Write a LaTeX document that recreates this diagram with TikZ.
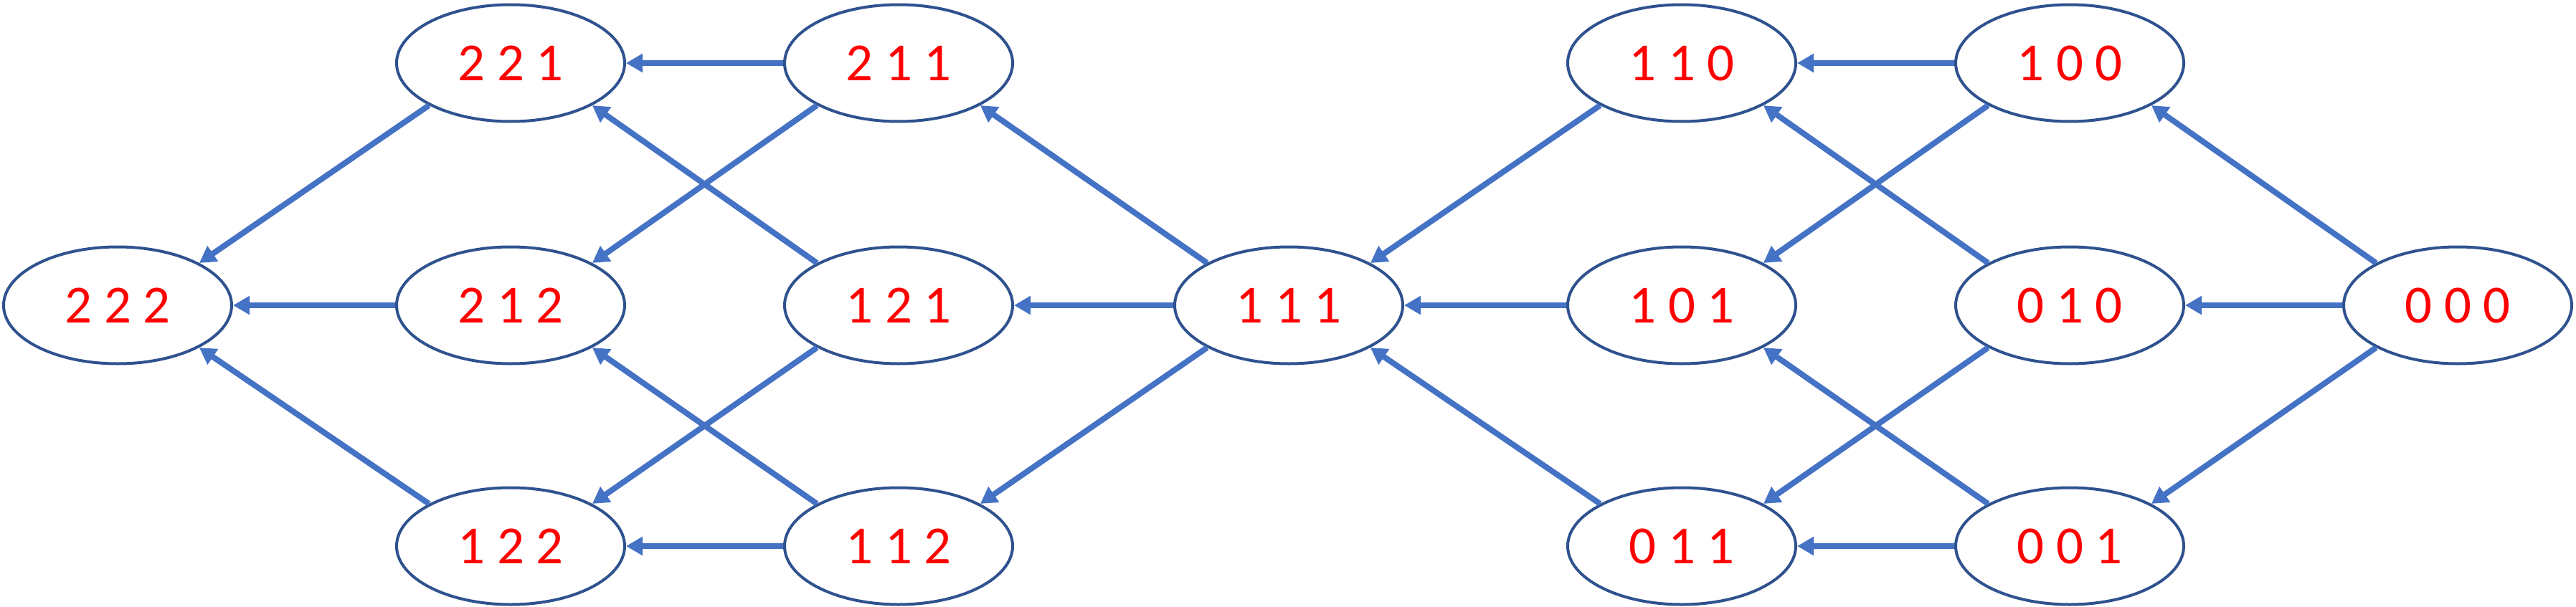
\documentclass[tikz,border=0pt]{standalone}
\usepackage{fontspec}
\setmainfont{Carlito}
\usetikzlibrary{shapes.geometric,arrows.meta}
\definecolor{rimblue}{HTML}{2F528F}
\definecolor{edgeblue}{HTML}{4472C4}
\begin{document}
\begin{tikzpicture}[
    cell/.style={ellipse,draw=rimblue,line width=0.04cm,minimum width=3.18cm,minimum height=1.63cm,inner sep=0pt,
      text=red,font=\fontsize{21.3}{25}\selectfont},
    edge/.style={draw=edgeblue,line width=0.08cm,-{Triangle[length=0.23cm,width=0.25cm]}}]
    \useasboundingbox (0,0) rectangle (35.92,-8.46);
    \node[cell] (n222) at (1.64,-4.26) {2 2 2};
    \node[cell] (n221) at (7.12,-0.88) {2 2 1};
    \node[cell] (n212) at (7.12,-4.26) {2 1 2};
    \node[cell] (n122) at (7.12,-7.62) {1 2 2};
    \node[cell] (n211) at (12.53,-0.88) {2 1 1};
    \node[cell] (n121) at (12.53,-4.26) {1 2 1};
    \node[cell] (n112) at (12.53,-7.62) {1 1 2};
    \node[cell] (n111) at (17.97,-4.26) {1 1 1};
    \node[cell] (n110) at (23.45,-0.88) {1 1 0};
    \node[cell] (n101) at (23.45,-4.26) {1 0 1};
    \node[cell] (n011) at (23.45,-7.62) {0 1 1};
    \node[cell] (n100) at (28.86,-0.88) {1 0 0};
    \node[cell] (n010) at (28.86,-4.26) {0 1 0};
    \node[cell] (n001) at (28.86,-7.62) {0 0 1};
    \node[cell] (n000) at (34.27,-4.26) {0 0 0};
    \draw[edge] (n221.south west) -- (n222.north east);
    \draw[edge] (n212.west) -- (n222.east);
    \draw[edge] (n122.north west) -- (n222.south east);
    \draw[edge] (n211.west) -- (n221.east);
    \draw[edge] (n211.south west) -- (n212.north east);
    \draw[edge] (n121.north west) -- (n221.south east);
    \draw[edge] (n121.south west) -- (n122.north east);
    \draw[edge] (n112.north west) -- (n212.south east);
    \draw[edge] (n112.west) -- (n122.east);
    \draw[edge] (n111.north west) -- (n211.south east);
    \draw[edge] (n111.west) -- (n121.east);
    \draw[edge] (n111.south west) -- (n112.north east);
    \draw[edge] (n110.south west) -- (n111.north east);
    \draw[edge] (n101.west) -- (n111.east);
    \draw[edge] (n011.north west) -- (n111.south east);
    \draw[edge] (n100.west) -- (n110.east);
    \draw[edge] (n100.south west) -- (n101.north east);
    \draw[edge] (n010.north west) -- (n110.south east);
    \draw[edge] (n010.south west) -- (n011.north east);
    \draw[edge] (n001.north west) -- (n101.south east);
    \draw[edge] (n001.west) -- (n011.east);
    \draw[edge] (n000.north west) -- (n100.south east);
    \draw[edge] (n000.west) -- (n010.east);
    \draw[edge] (n000.south west) -- (n001.north east);
\end{tikzpicture}
\end{document}
